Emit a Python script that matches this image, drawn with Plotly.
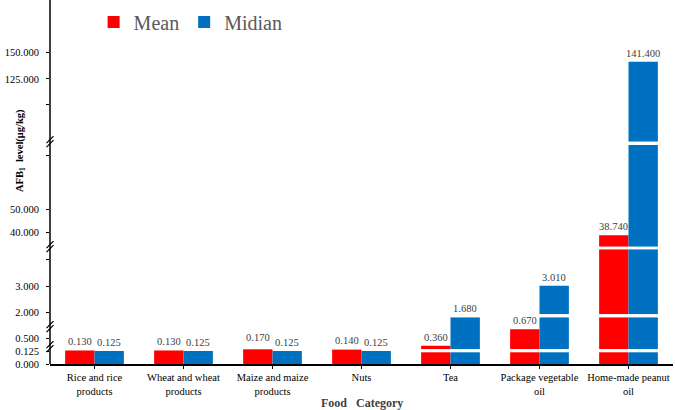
import plotly.graph_objects as go

# ---------------- data ----------------
categories = ["Rice and rice<br>products", "Wheat and wheat<br>products",
              "Maize and maize<br>products", "Nuts", "Tea",
              "Package vegetable<br>oil", "Home-made peanut<br>oil"]
mean_values = [0.130, 0.130, 0.170, 0.140, 0.360, 0.670, 38.740]
median_values = [0.125, 0.125, 0.125, 0.125, 1.680, 3.010, 141.400]
series_names = ["Mean", "Midian"]

# y-axis tick values / labels for each broken-axis segment (bottom -> top)
seg_tickvals = [[0, 0.125], [0.5], [2, 3], [40, 50], [125, 150]]
seg_ticktext = [["0.000", "0.125"], ["0.500"], ["2.000", "3.000"],
                ["40.000", "50.000"], ["125.000", "150.000"]]
seg_minorvals = [[], [], [4], [74], [100]]   # unlabeled tick marks

# ---------------- broken-axis layout ----------------
PLOT_H = 364.0  # plot-area height in px
# (axis range, value where tall bars are cut, pixel top, pixel bottom)
segments = [
    dict(rng=[0.0, 0.1923], cap=0.1125, px=(344.0, 364.0)),
    dict(rng=[0.292, 0.896], cap=0.896, px=(317.3, 349.3)),
    dict(rng=[1.924, 4.395], cap=4.395, px=(249.3, 314.3)),
    dict(rng=[33.7, 78.5], cap=78.5, px=(145.0, 246.7)),
    dict(rng=[64.9, 200.4], cap=200.4, px=(0.0, 141.7)),
]
break_px = [141.7, 246.7, 326.7, 346.7]

RED = "#FF0000"
BLUE = "#0070C0"
FONT = "Liberation Serif"


def px2paper(p):
    return (PLOT_H - p) / PLOT_H


def piece(v, k):
    seg = segments[k]
    lo = seg["rng"][0]
    nxt = segments[k + 1] if k + 1 < len(segments) else None
    if v <= lo:
        return None, False
    if nxt is None or v < nxt["rng"][0]:
        return min(v, seg["rng"][1]) - lo, True
    return seg["cap"] - lo, False


fig = go.Figure()
labels = []
for k, seg in enumerate(segments):
    yname = "y" if k == 0 else f"y{k+1}"
    for s, (vals, color, off) in enumerate([(mean_values, RED, -0.33),
                                            (median_values, BLUE, 0.0)]):
        heights = []
        for i, v in enumerate(vals):
            h, lab = piece(v, k)
            heights.append(h)
            if lab:
                labels.append((i + off + 0.165, seg["rng"][0] + h, yname, v))
        fig.add_trace(go.Bar(
            x=categories, y=heights, base=[seg["rng"][0]] * len(vals),
            name=series_names[s], legendgroup=series_names[s],
            showlegend=(k == 0), marker=dict(color=color, line=dict(width=0)),
            width=0.33, offset=off, xaxis="x", yaxis=yname,
        ))

layout = dict(
    width=675, height=410,
    margin=dict(l=50, r=2, t=0, b=46, autoexpand=False),
    paper_bgcolor="white", plot_bgcolor="white",
    font=dict(family=FONT, color="black"),
    xaxis=dict(domain=[0, 1], anchor="y", range=[-0.5, 6.5], automargin=False,
               showline=True, linecolor="black", linewidth=1.5,
               ticks="outside", ticklen=3, tickcolor="black",
               tickfont=dict(family=FONT, size=10.5, color="black"),
               showgrid=False, zeroline=False),
    legend=dict(orientation="h", x=0.07, y=0.993, xanchor="left", yanchor="top",
                font=dict(family=FONT, size=20, color="#595959"),
                bgcolor="rgba(0,0,0,0)", itemwidth=30),
    showlegend=True,
)
for k, seg in enumerate(segments):
    key = "yaxis" if k == 0 else f"yaxis{k+1}"
    ax = dict(
        domain=[px2paper(seg["px"][1]), px2paper(seg["px"][0])],
        range=seg["rng"], anchor="x", automargin=False,
        tickmode="array", tickvals=seg_tickvals[k], ticktext=seg_ticktext[k],
        ticks="outside", ticklen=3, tickcolor="black", tickwidth=1,
        ticklabelstandoff=5,
        tickfont=dict(family=FONT, size=10.5, color="black"),
        showgrid=False, zeroline=False, showline=False,
    )
    if seg_minorvals[k]:
        ax["minor"] = dict(tickmode="array", tickvals=seg_minorvals[k],
                           ticks="outside", ticklen=3, tickcolor="black",
                           tickwidth=1, showgrid=False)
    layout[key] = ax
fig.update_layout(**layout)

# data labels above the bar ends
for xpos, ytop, yname, v in labels:
    fig.add_annotation(x=xpos, y=ytop, xref="x", yref=yname, text=f"{v:.3f}",
                       showarrow=False, yanchor="bottom", yshift=1,
                       font=dict(family=FONT, size=10.5, color="#404040"))

# continuous y-axis line
fig.add_shape(type="line", xref="paper", yref="paper", x0=0, x1=0, y0=0, y1=1,
              line=dict(color="black", width=1.5))
# break marks
for b in break_px:
    for dy in (-2.0, 2.0):
        fig.add_shape(type="line", xref="paper", yref="paper",
                      xsizemode="pixel", ysizemode="pixel",
                      xanchor=0, yanchor=px2paper(b),
                      x0=-3.5, x1=3.5, y0=dy - 3.5, y1=dy + 3.5,
                      line=dict(color="black", width=1.2))

# axis titles
fig.add_annotation(text="<b>AFB<sub>1</sub>  level(μg/kg)</b>", textangle=-90,
                   xref="paper", yref="paper", x=(12 - 50) / 623.0,
                   y=px2paper(150.5), showarrow=False,
                   font=dict(family=FONT, size=10.5, color="black"))
fig.add_annotation(text="<b>Food\u00a0\u00a0\u00a0Category</b>",
                   xref="paper", yref="paper", x=0.5, y=px2paper(403),
                   yanchor="middle", showarrow=False,
                   font=dict(family=FONT, size=12, color="#404040"))

fig.write_html("out.html", config={"displayModeBar": False},
               post_script="document.body.style.margin='0';")
